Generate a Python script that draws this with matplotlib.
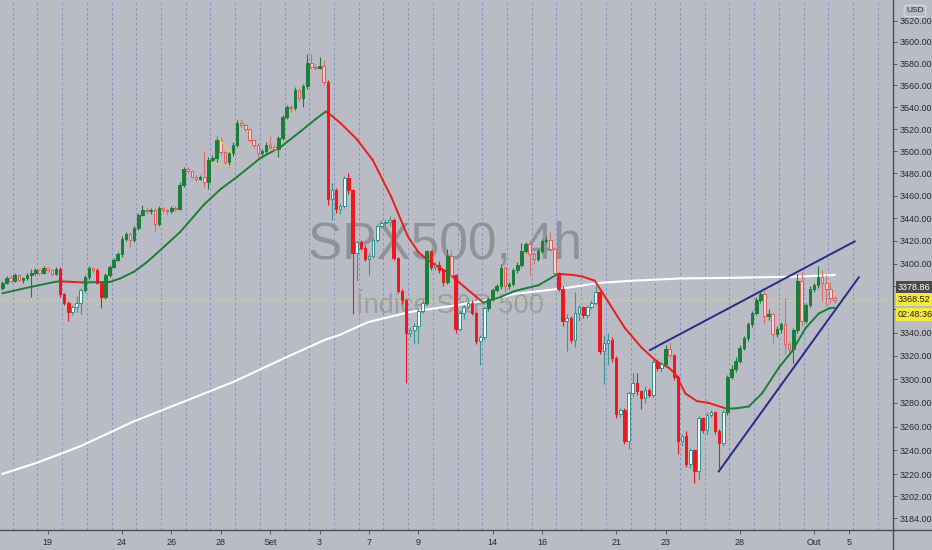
import matplotlib
matplotlib.use('Agg')
import matplotlib.pyplot as plt
import matplotlib.transforms as mtransforms
from matplotlib import font_manager
from matplotlib.collections import LineCollection
from matplotlib.lines import Line2D
import numpy as np

# SPX500 4h candles, 17 Aug - 2 Oct 2020 (each open = previous close)
first_open = 3379
closes = [3383, 3387, 3385, 3390, 3386, 3387, 3390, 3392, 3394, 3392,
          3396, 3394, 3391, 3395, 3373, 3366, 3358, 3362, 3366, 3377,
          3388, 3396, 3394, 3383, 3371, 3390, 3397, 3403, 3408, 3422,
          3426, 3421, 3431, 3443, 3447, 3446, 3447, 3435, 3449, 3447,
          3446, 3449, 3448, 3470, 3484, 3482, 3477, 3475, 3477, 3472,
          3492, 3494, 3510, 3499, 3490, 3498, 3506, 3526, 3524, 3520,
          3510, 3506, 3498, 3500, 3506, 3504, 3502, 3512, 3531, 3540,
          3539, 3556, 3548, 3559, 3581, 3577, 3576, 3578, 3563, 3457,
          3465, 3448, 3451, 3476, 3465, 3409, 3419, 3414, 3404, 3407,
          3421, 3433, 3436, 3437, 3438, 3405, 3376, 3368, 3340, 3342,
          3346, 3359, 3366, 3411, 3397, 3399, 3394, 3384, 3407, 3390,
          3343, 3357, 3362, 3366, 3357, 3333, 3336, 3361, 3369, 3377,
          3380, 3396, 3380, 3382, 3394, 3399, 3411, 3417, 3408, 3404,
          3411, 3420, 3421, 3413, 3392, 3378, 3350, 3353, 3334, 3357,
          3362, 3355, 3362, 3366, 3375, 3324, 3331, 3334, 3318, 3271,
          3274, 3248, 3288, 3297, 3290, 3284, 3291, 3287, 3315, 3310,
          3313, 3326, 3321, 3302, 3248, 3252, 3229, 3240, 3223, 3267,
          3257, 3270, 3272, 3256, 3246, 3272, 3302, 3309, 3316, 3327,
          3335, 3347, 3357, 3368, 3373, 3354, 3356, 3339, 3343, 3347,
          3330, 3326, 3342, 3385, 3350, 3364, 3378, 3381, 3388, 3383,
          3378, 3370, 3368.52]
highs = [3385, 3389, 3390, 3392, 3391, 3388, 3392, 3395, 3396, 3395,
         3398, 3397, 3395, 3397, 3397, 3374, 3367, 3364, 3372, 3379,
         3390, 3398, 3397, 3396, 3384, 3392, 3399, 3405, 3410, 3424,
         3428, 3428, 3433, 3445, 3452, 3450, 3449, 3449, 3451, 3450,
         3448, 3451, 3451, 3472, 3486, 3486, 3483, 3479, 3479, 3500,
         3495, 3497, 3514, 3513, 3500, 3500, 3508, 3528, 3529, 3525,
         3521, 3511, 3507, 3502, 3508, 3514, 3506, 3514, 3533, 3542,
         3542, 3558, 3557, 3561, 3589, 3589, 3580, 3586, 3583, 3565,
         3471, 3467, 3453, 3478, 3480, 3466, 3420, 3421, 3416, 3409,
         3423, 3435, 3438, 3439, 3442, 3440, 3406, 3378, 3369, 3345,
         3348, 3361, 3368, 3412, 3412, 3401, 3402, 3395, 3413, 3412,
         3391, 3359, 3364, 3370, 3368, 3358, 3338, 3363, 3371, 3379,
         3382, 3400, 3398, 3384, 3396, 3401, 3418, 3419, 3419, 3410,
         3413, 3422, 3424, 3428, 3415, 3393, 3380, 3356, 3354, 3375,
         3364, 3363, 3364, 3368, 3380, 3376, 3338, 3340, 3336, 3320,
         3276, 3276, 3290, 3305, 3305, 3291, 3294, 3293, 3318, 3317,
         3315, 3329, 3332, 3322, 3304, 3254, 3256, 3242, 3241, 3269,
         3268, 3272, 3274, 3273, 3258, 3274, 3304, 3312, 3319, 3329,
         3337, 3349, 3359, 3371, 3376, 3376, 3360, 3357, 3346, 3349,
         3370, 3332, 3344, 3391, 3393, 3366, 3380, 3383, 3398, 3394,
         3390, 3384, 3372]
lows = [3377, 3382, 3383, 3384, 3385, 3383, 3386, 3371, 3390, 3390,
        3391, 3393, 3389, 3390, 3371, 3364, 3350, 3355, 3358, 3356,
        3375, 3386, 3392, 3382, 3361, 3369, 3388, 3396, 3402, 3406,
        3420, 3415, 3419, 3430, 3442, 3444, 3444, 3428, 3433, 3445,
        3443, 3445, 3446, 3447, 3468, 3480, 3476, 3473, 3474, 3468,
        3466, 3490, 3490, 3497, 3488, 3486, 3496, 3504, 3522, 3518,
        3508, 3503, 3494, 3494, 3498, 3502, 3499, 3495, 3510, 3529,
        3536, 3537, 3546, 3540, 3557, 3575, 3574, 3575, 3560, 3452,
        3438, 3445, 3444, 3449, 3462, 3356, 3385, 3412, 3402, 3390,
        3405, 3419, 3431, 3434, 3433, 3403, 3374, 3365, 3297, 3336,
        3330, 3330, 3357, 3364, 3394, 3394, 3392, 3380, 3382, 3388,
        3340, 3341, 3352, 3361, 3355, 3330, 3312, 3334, 3359, 3367,
        3375, 3378, 3375, 3378, 3380, 3392, 3397, 3409, 3389, 3400,
        3402, 3409, 3418, 3411, 3390, 3376, 3346, 3324, 3331, 3328,
        3350, 3353, 3353, 3360, 3364, 3322, 3296, 3312, 3315, 3267,
        3268, 3245, 3241, 3286, 3287, 3275, 3280, 3285, 3285, 3307,
        3306, 3311, 3318, 3299, 3237, 3244, 3226, 3225, 3213, 3215,
        3255, 3254, 3268, 3254, 3225, 3244, 3270, 3300, 3306, 3314,
        3325, 3333, 3345, 3355, 3366, 3347, 3351, 3331, 3336, 3340,
        3322, 3323, 3314, 3340, 3346, 3348, 3362, 3375, 3379, 3367,
        3363, 3366, 3366]

# coloured moving average, sampled off the chart (candle index, price)
ma_idx = [0, 7.4, 12.8, 14, 19.6, 26.2, 28.6, 32, 35, 38.4, 43.2, 48.9, 53,
          57, 62.7, 67.6, 72.4, 76, 78.5, 80, 82.2, 86, 89.9, 94.4, 98.4,
          101, 103.3, 108.2, 113, 116.7, 121.1, 124.3, 130.1, 134.9, 138.6,
          141, 143.8, 147.1, 151.1, 155.2, 158.9, 161.7, 163.3, 165.8, 168.6,
          171.4, 175.9, 178.5, 181.2, 184.4, 188.5, 191.7, 195, 198.2, 200.7,
          202]
ma_val = [3374, 3380, 3384, 3384.5, 3383.5, 3384, 3387, 3393, 3401, 3412,
          3428, 3452, 3466, 3477, 3494, 3504, 3518, 3529, 3536, 3532, 3525,
          3511, 3492, 3459, 3424, 3410, 3403, 3392, 3377, 3366, 3371, 3376,
          3381, 3391, 3390, 3388.5, 3385, 3366.5, 3344, 3327, 3315, 3310,
          3305, 3288, 3281.5, 3280, 3275, 3275.5, 3277, 3288, 3310, 3324,
          3344, 3356.5, 3361, 3361.5]

# long (white) moving average
ma200_idx = [0, 8.3, 18.9, 31.9, 44, 56.2, 68.4, 78.1, 82.2, 88.7, 99.2, 109,
             117.9, 124.3, 136.5, 144.7, 152.8, 164.9, 176.3, 192.5, 202]
ma200_val = [3220.5, 3229.6, 3243.5, 3264.4, 3281, 3298, 3318, 3333.5, 3338.5,
             3349, 3358, 3363, 3368, 3373.5, 3378.5, 3383, 3385, 3387, 3387.5,
             3388.5, 3390]

# rising wedge drawn on the chart
wedge_upper_idx = [157.2, 206.9]
wedge_upper_val = [3325, 3419.5]
wedge_lower_idx = [173.9, 207.9]
wedge_lower_val = [3222.5, 3388]
# small yellow drawing near 28 Aug
tri_a_idx = [52.4, 55.7]
tri_a_val = [3512, 3497.5]
tri_b_idx = [50.8, 55.7]
tri_b_val = [3489.5, 3486]

day_pos = [11, 29, 41, 53, 65, 77, 89, 101, 119, 131, 149, 161, 179, 197, 205.5]
day_labels = ['19', '24', '26', '28', 'Set', '3', '7', '9', '14', '16', '21',
              '23', '28', 'Out', '5']
session_starts = [2.5 + 6 * k for k in range(36)]
price_ticks = [3184, 3202] + list(range(3220, 3621, 20))
hidden_ticks = [3360, 3380]     # covered by the price boxes
ref_price = 3378.86
countdown = '02:48:36'

BG = '#b9bcc4'
GREEN = '#1a7f37'
RED = '#f0161c'

names = {f.name for f in font_manager.fontManager.ttflist}
narrow = 'Liberation Sans Narrow' in names
font = 'Liberation Sans Narrow' if narrow else 'Liberation Sans'
tick_fs = 7.5 if narrow else 6.5
plt.rcParams['font.family'] = [font, 'DejaVu Sans']

fig = plt.figure(figsize=(9.32, 5.5), dpi=100, facecolor=BG)
ax = fig.add_axes([0, 20 / 550, 893 / 932, 530 / 550], facecolor=BG)
ax.set_yscale('log')
ax.set_xlim(-0.583, 216.2)
ax.set_ylim(3174.2, 3639.2)

for x in session_starts:
    ax.axvline(x, color='#7f88c6', lw=0.6, ls=(0, (3, 3)), zorder=0)

# watermark
wm = 45 if narrow else 37
ax.text(0.498, 0.513, 'SPX500, 4h', transform=ax.transAxes, ha='center',
        va='baseline', fontsize=wm, color='#8f9298', zorder=1)
ax.text(0.504, 0.409, 'Índice S&P 500', transform=ax.transAxes, ha='center',
        va='baseline', fontsize=wm * 0.53, color='#9a9da3', zorder=1)

c = np.array(closes, dtype=float)
o = np.concatenate([[first_open], c[:-1]])
h = np.maximum(np.array(highs, dtype=float), np.maximum(o, c))
l = np.minimum(np.array(lows, dtype=float), np.minimum(o, c))
idx = np.arange(len(c))
ma_here = np.interp(idx, ma_idx, ma_val)
up = c >= o
above = c >= ma_here

fills, edges, wicks = [], [], []
for u, a in zip(up, above):
    if u and a:
        fills.append(GREEN); edges.append(GREEN); wicks.append(GREEN)
    elif u:
        fills.append('#f1f6f6'); edges.append('#2f8f8a'); wicks.append('#3a9690')
    elif a:
        fills.append('#f3d6d6'); edges.append('#de5b5b'); wicks.append('#e06b6b')
    else:
        fills.append(RED); edges.append(RED); wicks.append(RED)

ax.plot(ma200_idx, ma200_val, color='white', lw=1.5, zorder=2)

pts = np.column_stack([ma_idx, ma_val])
segs = np.stack([pts[:-1], pts[1:]], axis=1)
seg_cols = [GREEN if b >= a else '#e8201a' for a, b in zip(ma_val[:-1], ma_val[1:])]
ax.add_collection(LineCollection(segs, colors=seg_cols, linewidths=1.4,
                                 capstyle='round', zorder=2.2))

ax.vlines(idx, l, h, colors=wicks, linewidth=0.8, zorder=3)
body = np.maximum(np.abs(c - o), 0.8)
ax.bar(idx, body, bottom=np.minimum(o, c), width=0.62, color=fills,
       edgecolor=edges, linewidth=0.7, zorder=3.1)

ax.plot(wedge_upper_idx, wedge_upper_val, color='#272a8a', lw=1.4, zorder=5)
ax.plot(wedge_lower_idx, wedge_lower_val, color='#272a8a', lw=1.4, zorder=5)
ax.plot(tri_a_idx, tri_a_val, color='#e4cf5c', lw=0.9, zorder=5)
ax.plot(tri_b_idx, tri_b_val, color='#e4cf5c', lw=0.9, zorder=5)

ax.axhline(closes[-1], color='#e3df8e', lw=0.8, ls=(0, (1, 2)), zorder=1.5)

# axes, ticks
for side in ['left', 'top', 'right', 'bottom']:
    ax.spines[side].set_visible(False)
ax.yaxis.tick_right()
ax.yaxis.set_minor_locator(matplotlib.ticker.NullLocator())
ax.set_yticks(price_ticks)
ax.set_yticklabels(['' if v in hidden_ticks else f'{v:.2f}' for v in price_ticks])
ax.set_xticks(day_pos)
ax.set_xticklabels(day_labels)
ax.tick_params(axis='y', which='major', length=3, width=0.6, color='#4a4a4a',
               labelsize=tick_fs, labelcolor='#2a2a2a', pad=2)
ax.tick_params(axis='x', length=3, width=0.6, color='#4a4a4a',
               labelsize=tick_fs, labelcolor='#2a2a2a', pad=3)

fig.add_artist(Line2D([893 / 932, 893 / 932], [0, 1], color='#4d4d4f', lw=1))
fig.add_artist(Line2D([0, 1], [20 / 550, 20 / 550], color='#4d4d4f', lw=1))

blend = mtransforms.blended_transform_factory(ax.transAxes, ax.transData)
lx = 1.0 + 5 / 893
ax.text(lx, ref_price, f'{ref_price:.2f}', transform=blend, ha='left', va='center',
        fontsize=tick_fs, color='white', zorder=10, clip_on=False,
        bbox=dict(boxstyle='square,pad=0.25', fc='#4b4b4d', ec='none'))
ax.text(lx, closes[-1], f'{closes[-1]:.2f}', transform=blend, ha='left', va='center',
        fontsize=tick_fs, color='#202020', zorder=11, clip_on=False,
        bbox=dict(boxstyle='square,pad=0.25', fc='#f4e93c', ec='none'))
ax.annotate(countdown, xy=(lx, closes[-1]), xycoords=blend, xytext=(0, -15),
            textcoords='offset pixels', ha='left', va='center', fontsize=tick_fs,
            color='#202020', zorder=11, annotation_clip=False,
            bbox=dict(boxstyle='square,pad=0.25', fc='#f4e93c', ec='none'))
fig.text(915 / 932, 1 - 11 / 550, 'USD', ha='center', va='center', fontsize=6,
         color='#303030',
         bbox=dict(boxstyle='round,pad=0.25', fc=BG, ec='#d8dade', lw=0.8))

fig.savefig('out.png', dpi=100, facecolor=BG)
